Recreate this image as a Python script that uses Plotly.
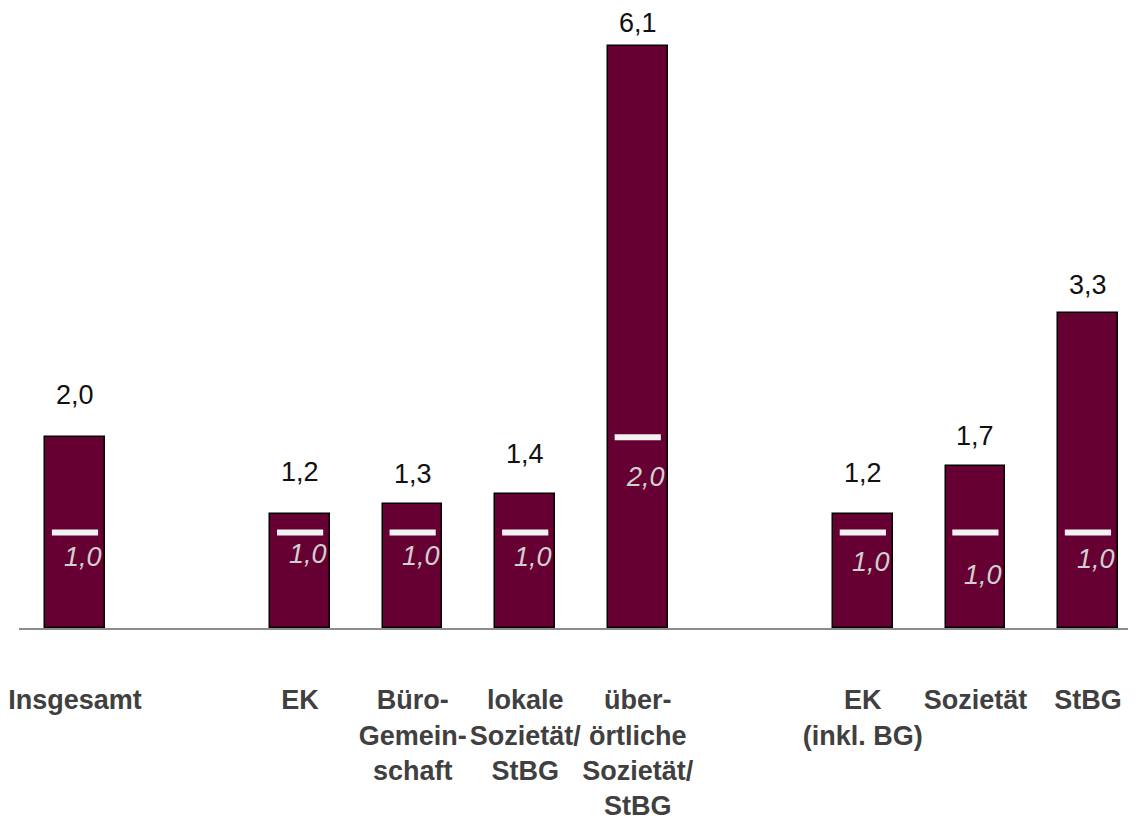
import plotly.graph_objects as go

# data
categories = ["Insgesamt", "EK", "Büro-Gemeinschaft", "lokale Sozietät/StBG",
              "überörtliche Sozietät/StBG", "EK (inkl. BG)", "Sozietät", "StBG"]
tick_labels = ["Insgesamt", "EK", "Büro-<br>Gemein-<br>schaft", "lokale<br>Sozietät/<br>StBG",
               "über-<br>örtliche<br>Sozietät/<br>StBG", "EK<br>(inkl. BG)", "Sozietät", "StBG"]
mean_values = [2.0, 1.2, 1.3, 1.4, 6.1, 1.2, 1.7, 3.3]
median_values = [1.0, 1.0, 1.0, 1.0, 2.0, 1.0, 1.0, 1.0]

# spacer slots between the three groups
axis_order = [categories[0], " "] + categories[1:5] + ["  "] + categories[5:]

FONT = "Liberation Sans, Arial, sans-serif"
BAR_COLOR = "#660033"

def de(v):
    return f"{v:.1f}".replace(".", ",")

fig = go.Figure()
fig.add_trace(go.Bar(
    x=categories, y=mean_values, width=0.53,
    marker=dict(color=BAR_COLOR, line=dict(color="#000000", width=1.5)),
    hoverinfo="skip",
))
fig.add_trace(go.Scatter(
    x=categories, y=median_values, mode="markers",
    marker=dict(symbol="line-ew", size=33, line=dict(color="#f2f2f2", width=6)),
    hoverinfo="skip",
))

# label offsets (px) as in the original layout
value_shift = [42, 42, 30, 40, 23, 41, 30, 28]
median_shift = [-24, -21, -23, -24, -40, -29, -42, -26]

for cat, v, s in zip(categories, mean_values, value_shift):
    fig.add_annotation(x=cat, y=v, text=de(v), showarrow=False, yanchor="middle",
                       yshift=s, font=dict(family=FONT, size=27, color="#111111"))
for cat, m, s in zip(categories, median_values, median_shift):
    fig.add_annotation(x=cat, y=m, text=de(m), showarrow=False, yanchor="middle",
                       xshift=8, yshift=s,
                       font=dict(family=FONT, size=27, color="#d0d0d0", style="italic"))

# page body has an 8px margin, so the plot is offset accordingly
fig.update_layout(
    width=1136, height=827,
    margin=dict(l=11, r=0, t=0, b=207),
    paper_bgcolor="white", plot_bgcolor="white",
    showlegend=False,
    bargap=0,
)
fig.update_xaxes(
    type="category", categoryorder="array", categoryarray=axis_order,
    range=[-0.4976, 9.498], automargin=False,
    tickmode="array", tickvals=categories, ticktext=tick_labels, tickangle=0,
    tickfont=dict(family=FONT, size=27, color="#404040", weight="bold"),
    ticks="", ticklabelstandoff=47,
    showline=True, linecolor="#8c8c8c", linewidth=2,
    showgrid=False, zeroline=False,
)
fig.update_yaxes(range=[0, 6.499], visible=False, showgrid=False, zeroline=False)

fig.write_html("out.html")
